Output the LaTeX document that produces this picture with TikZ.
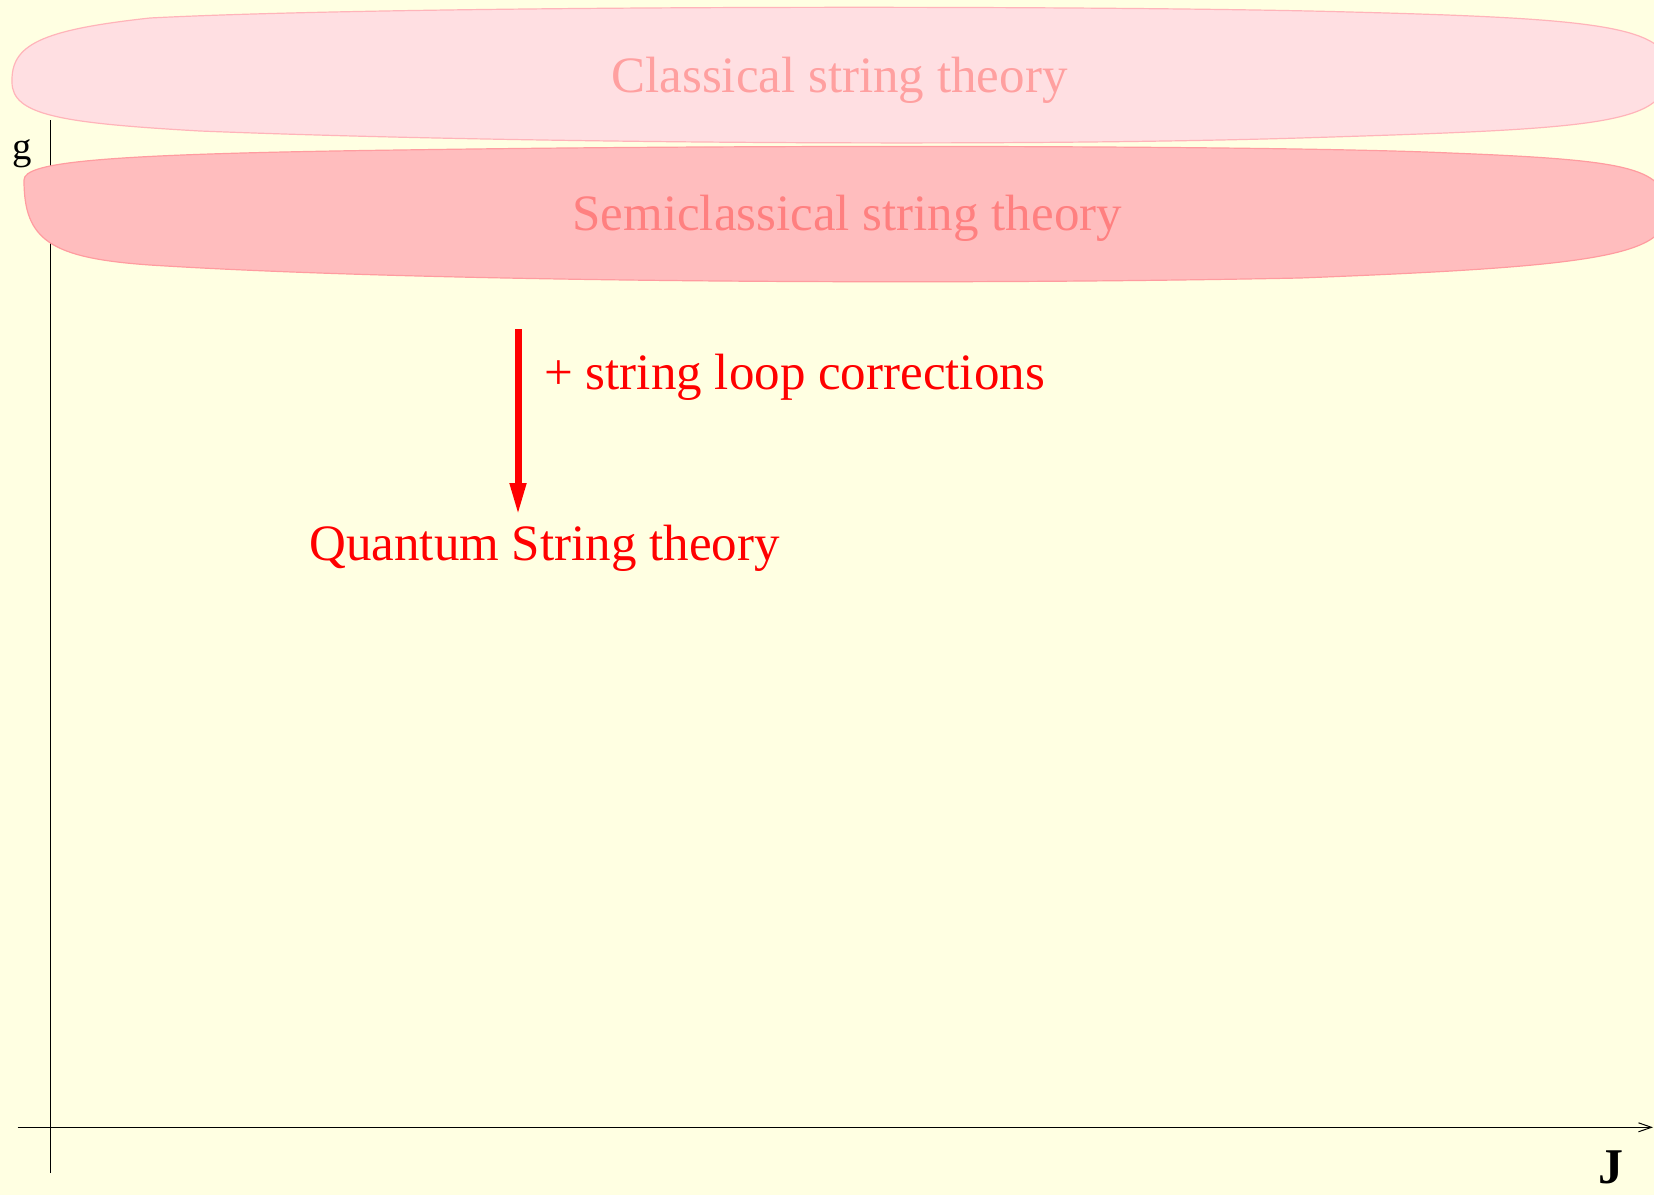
\documentclass[tikz,border=0pt]{standalone}
\usepackage{fontspec}
\setmainfont{Liberation Serif}
\usetikzlibrary{arrows.meta}
\definecolor{bgyellow}{RGB}{255,255,226}
\definecolor{clfill}{RGB}{255,223,226}
\definecolor{cledge}{RGB}{255,180,186}
\definecolor{cltext}{RGB}{255,160,160}
\definecolor{scfill}{RGB}{255,189,190}
\definecolor{scedge}{RGB}{255,156,160}
\definecolor{sctext}{RGB}{255,128,128}
\tikzset{
  bigtext/.style={font=\fontsize{25.5}{30}\selectfont, inner sep=0pt},
  axisline/.style={line width=0.5pt, black},
  blobcl/.style={fill=clfill, draw=cledge, line width=0.6pt},
  blobsc/.style={fill=scfill, draw=scedge, line width=0.6pt},
}
\begin{document}
\begin{tikzpicture}[x=0.5pt, y=-0.5pt]
\useasboundingbox (0,0) rectangle (1654,1195);
\fill[bgyellow] (0,0) rectangle (1654,1195);
\begin{scope}
\clip (0,0) rectangle (1654,1195);
% axes
\coordinate (ytop) at (50.7,120);
\coordinate (ybot) at (50.7,1173);
\coordinate (xleft) at (17.7,1127.3);
\coordinate (xright) at (1653,1127.3);
\draw[axisline] (ybot) -- (ytop);
\draw[axisline, -{Straight Barb[length=6.5pt, width=4.5pt]}] (xleft) -- (xright);
% blobs
\draw[blobcl] (12,82) .. controls (11,45) and (40,30) .. (150,18)
  .. controls (400,5) and (1100,5) .. (1350,12)
  .. controls (1580,18) and (1655,25) .. (1668,60)
  .. controls (1675,125) and (1620,128) .. (1300,138)
  .. controls (1000,147) and (500,143) .. (200,131)
  .. controls (60,123) and (12,115) .. cycle;
\draw[blobsc] (24,180) .. controls (24,162) and (100,154) .. (400,150)
  .. controls (800,144) and (1300,146) .. (1450,153)
  .. controls (1630,160) and (1660,168) .. (1668,205)
  .. controls (1672,255) and (1610,266) .. (1300,278)
  .. controls (900,286) and (400,281) .. (150,265)
  .. controls (50,258) and (24,240) .. cycle;
% texts
\node[bigtext, text=cltext, anchor=base west] (classical) at (611,92) {Classical string theory};
\node[bigtext, text=sctext, anchor=base west] (semiclassical) at (572,230) {Semiclassical string theory};
\node[bigtext, text=red, anchor=base west] (loop) at (544,389) {+ string loop corrections};
\node[bigtext, text=red, anchor=base west] (quantum) at (309,560) {Quantum String theory};
\node[font=\fontsize{19.4}{23}\selectfont, inner sep=0pt, anchor=base west] (glabel) at (12,159) {g};
\node[font=\fontsize{25}{30}\selectfont\bfseries, inner sep=0pt, anchor=base west] (jlabel) at (1598,1183) {J};
% red arrow
\coordinate (arrstart) at (518,329);
\coordinate (arrend) at (518,516);
\draw[red, line width=3.5pt, -{Triangle[length=16.5pt, width=7.5pt]}] (arrstart) -- (arrend);
\end{scope}
\end{tikzpicture}
\end{document}
